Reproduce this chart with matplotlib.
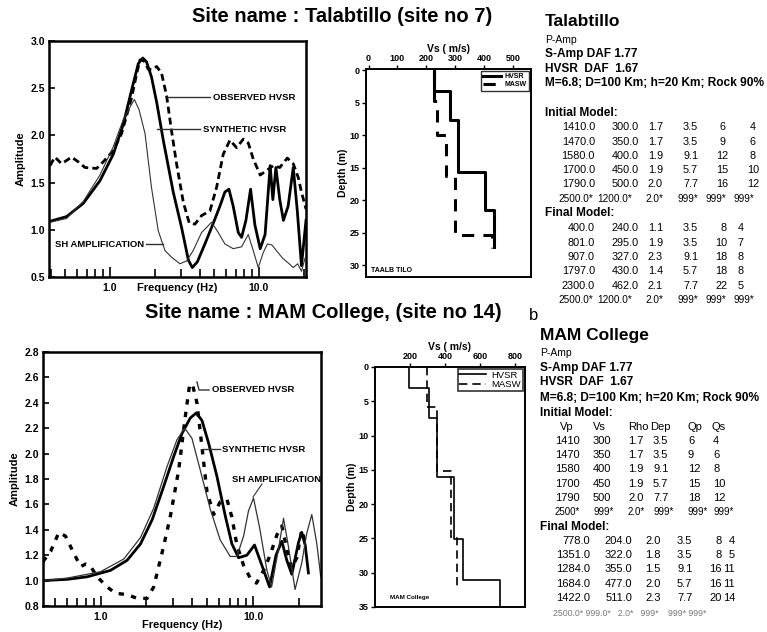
import numpy as np
import matplotlib.pyplot as plt
from matplotlib.lines import Line2D
from matplotlib.ticker import FixedLocator, NullFormatter

plt.rcParams['font.family'] = ['Liberation Sans', 'DejaVu Sans']

# ---------------- data: Talabtillo (site 7) ----------------
f_obs_7 = [0.396, 0.427, 0.474, 0.553, 0.613, 0.680, 0.814, 0.902, 1.053, 1.198, 1.398, 1.51,
           1.59, 1.69, 1.81, 1.93, 2.06, 2.22, 2.40, 2.59, 2.80, 3.11, 3.41, 3.72, 4.12, 4.69,
           5.20, 5.76, 6.39, 7.08, 7.85, 8.48, 9.16, 10.2, 11.3, 12.5, 13.8, 15.5, 17.0, 18.4,
           19.3, 20.7]
a_obs_7 = [1.68, 1.77, 1.70, 1.77, 1.72, 1.66, 1.65, 1.72, 1.84, 2.02, 2.40, 2.65,
           2.80, 2.79, 2.70, 2.70, 2.73, 2.66, 2.42, 2.05, 1.70, 1.29, 1.07, 1.06, 1.15, 1.20,
           1.45, 1.80, 1.95, 1.87, 1.96, 1.92, 1.75, 1.58, 1.63, 1.68, 1.66, 1.76, 1.70, 1.55,
           1.40, 1.22]

f_syn_7 = [0.396, 0.512, 0.662, 0.857, 1.053, 1.23, 1.398, 1.55, 1.66, 1.76, 1.90, 2.06, 2.28,
           2.66, 3.03, 3.36, 3.57, 3.86, 4.34, 4.94, 5.47, 5.91, 6.29, 6.72, 7.27, 7.65, 8.18,
           8.79, 9.40, 10.2, 11.0, 11.9, 12.4, 13.0, 13.8, 14.6, 15.7, 17.0, 18.1, 19.3, 20.7]
a_syn_7 = [1.09, 1.14, 1.28, 1.52, 1.80, 2.12, 2.48, 2.76, 2.82, 2.78, 2.62, 2.35, 1.95,
           1.40, 1.02, 0.68, 0.60, 0.66, 0.85, 1.07, 1.25, 1.40, 1.43, 1.25, 0.97, 0.92, 1.10,
           1.43, 1.05, 0.80, 0.95, 1.68, 1.32, 1.66, 1.32, 1.10, 1.25, 1.66, 1.20, 0.62, 1.10]

f_sh_7 = [0.396, 0.512, 0.662, 0.857, 1.053, 1.23, 1.398, 1.46, 1.57, 1.72, 1.90, 2.11, 2.34,
          2.59, 2.95, 3.27, 3.62, 4.12, 4.81, 5.34, 5.91, 6.72, 7.65, 8.48, 9.16, 9.90, 10.7,
          11.4, 12.2, 13.1, 14.4, 15.7, 17.0, 18.2, 19.3, 20.4]
a_sh_7 = [1.08, 1.12, 1.30, 1.58, 1.88, 2.17, 2.33, 2.38, 2.27, 2.02, 1.45, 0.99, 0.78,
          0.71, 0.64, 0.67, 0.78, 0.97, 1.08, 0.97, 0.85, 0.80, 0.82, 0.95, 0.78, 0.60, 0.76,
          0.85, 0.84, 0.78, 0.70, 0.65, 0.60, 0.64, 0.56, 0.70]

vs_hvsr_7 = [228, 282, 311, 404, 433]
dep_hvsr_7 = [3.2, 7.6, 15.6, 21.5, 27.2]
vs_masw_7 = [225, 236, 268, 300, 427]
dep_masw_7 = [4.7, 10.0, 16.2, 25.4, 27.3]

# ---------------- data: MAM College (site 14) ----------------
f_obs_14 = [0.42, 0.471, 0.534, 0.590, 0.653, 0.740, 0.798, 0.852, 0.951, 1.105, 1.253, 1.494,
            1.736, 2.018, 2.23, 2.59, 2.87, 3.25, 3.59, 3.84, 4.03, 4.28, 4.62, 4.98, 5.51,
            6.08, 6.73, 7.25, 7.82, 8.65, 9.56, 10.5, 11.7, 12.9, 14.3, 15.4, 16.6, 17.9,
            19.3, 20.8, 21.9]
a_obs_14 = [1.15, 1.23, 1.38, 1.35, 1.24, 1.11, 1.13, 1.12, 1.03, 0.95, 0.90, 0.89,
            0.86, 0.86, 0.95, 1.27, 1.51, 1.87, 2.29, 2.55, 2.53, 2.40, 2.05, 1.70, 1.52,
            1.62, 1.64, 1.50, 1.28, 1.12, 1.02, 0.98, 1.08, 1.20, 1.36, 1.43, 1.25, 1.10,
            1.18, 1.40, 1.30]

f_syn_14 = [0.42, 0.606, 0.818, 1.16, 1.494, 1.83, 2.18, 2.59, 3.02, 3.42, 3.87, 4.24, 4.62,
            5.11, 5.79, 6.56, 7.25, 8.02, 9.09, 10.2, 11.4, 12.8, 14.1, 15.4, 16.6, 17.9,
            19.8, 20.8, 21.9, 23.0]
a_syn_14 = [1.00, 1.01, 1.03, 1.08, 1.16, 1.29, 1.48, 1.74, 1.98, 2.16, 2.28, 2.32, 2.26,
            2.08, 1.82, 1.51, 1.29, 1.18, 1.20, 1.28, 1.12, 0.95, 1.20, 1.31, 1.16, 1.05,
            1.30, 1.38, 1.28, 1.06]

f_sh_14 = [0.42, 0.606, 1.0, 1.42, 1.83, 2.23, 2.73, 3.17, 3.56, 3.97, 4.50, 5.24, 6.08, 7.07,
           7.82, 8.65, 9.32, 10.05, 11.0, 12.3, 13.2, 14.6, 15.8, 17.0, 18.8, 20.8, 22.4,
           24.2, 26.1, 27.7]
a_sh_14 = [1.00, 1.02, 1.07, 1.17, 1.34, 1.57, 1.90, 2.11, 2.20, 2.12, 1.87, 1.56, 1.32, 1.19,
           1.19, 1.35, 1.55, 1.65, 1.42, 1.08, 0.95, 1.24, 1.49, 1.27, 0.93, 1.14, 1.37,
           1.52, 1.29, 1.03]

vs_hvsr_14 = [196, 310, 352, 451, 501, 714]
dep_hvsr_14 = [3.0, 7.4, 16.0, 25.1, 31.0, 35.0]
vs_masw_14 = [299, 352, 433, 470]
dep_masw_14 = [5.8, 15.1, 25.0, 32.0]

# text blocks
head_lines = ["P-Amp", "S-Amp DAF 1.77", "HVSR  DAF  1.67", "M=6.8; D=100 Km; h=20 Km; Rock 90%"]
init_7 = [["1410.0", "300.0", "1.7", "3.5", "6", "4"],
          ["1470.0", "350.0", "1.7", "3.5", "9", "6"],
          ["1580.0", "400.0", "1.9", "9.1", "12", "8"],
          ["1700.0", "450.0", "1.9", "5.7", "15", "10"],
          ["1790.0", "500.0", "2.0", "7.7", "16", "12"]]
final_7 = [["400.0", "240.0", "1.1", "3.5", "8", "4"],
           ["801.0", "295.0", "1.9", "3.5", "10", "7"],
           ["907.0", "327.0", "2.3", "9.1", "18", "8"],
           ["1797.0", "430.0", "1.4", "5.7", "18", "8"],
           ["2300.0", "462.0", "2.1", "7.7", "22", "5"]]
half_7 = ["2500.0*", "1200.0*", "2.0*", "999*", "999*", "999*"]
cols_14 = ["Vp", "Vs", "Rho", "Dep", "Qp", "Qs"]
init_14 = [["1410", "300", "1.7", "3.5", "6", "4"],
           ["1470", "350", "1.7", "3.5", "9", "6"],
           ["1580", "400", "1.9", "9.1", "12", "8"],
           ["1700", "450", "1.9", "5.7", "15", "10"],
           ["1790", "500", "2.0", "7.7", "18", "12"],
           ["2500*", "999*", "2.0*", "999*", "999*", "999*"]]
final_14 = [["778.0", "204.0", "2.0", "3.5", "8", "4"],
            ["1351.0", "322.0", "1.8", "3.5", "8", "5"],
            ["1284.0", "355.0", "1.5", "9.1", "16", "11"],
            ["1684.0", "477.0", "2.0", "5.7", "16", "11"],
            ["1422.0", "511.0", "2.3", "7.7", "20", "14"]]
half_14 = "2500.0* 999.0*   2.0*   999*    999* 999*"

W, H = 767, 632
fig = plt.figure(figsize=(W / 100, H / 100), dpi=100)


def rect(x0, y0, x1, y1):
    return [x0 / W, 1 - y1 / H, (x1 - x0) / W, (y1 - y0) / H]


def ftxt(x, y, s, **kw):
    kw.setdefault('va', 'center')
    fig.text(x / W, 1 - y / H, s, **kw)


def fline(xs, ys, lw=1.0):
    fig.add_artist(Line2D([x / W for x in xs], [1 - y / H for y in ys],
                          transform=fig.transFigure, color='#333333', lw=lw))


def steps(vs, dep):
    x, y, top = [], [], 0.0
    for v, d in zip(vs, dep):
        x += [v, v]
        y += [top, d]
        top = d
    return x, y


def amp_axes(ax, xlim, ylim, yticks, xlab_y):
    ax.set_xscale('log')
    ax.set_xlim(*xlim)
    ax.set_ylim(*ylim)
    ax.xaxis.set_major_locator(FixedLocator([1, 10]))
    ax.set_xticklabels(["1.0", "10.0"])
    minors = [m * 10 ** e for e in (-1, 0, 1) for m in range(2, 10)]
    ax.xaxis.set_minor_locator(FixedLocator(minors))
    ax.xaxis.set_minor_formatter(NullFormatter())
    ax.set_yticks(yticks)
    ax.set_yticklabels([f"{t:.1f}" for t in yticks])
    ax.tick_params(axis='both', which='both', direction='in', width=1.2)
    ax.tick_params(axis='x', which='major', length=7, pad=4)
    ax.tick_params(axis='x', which='minor', length=6)
    ax.tick_params(axis='y', length=4, pad=3)
    for lab in ax.get_xticklabels() + ax.get_yticklabels():
        lab.set_fontweight('bold')
        lab.set_fontsize(7.5)
    for s in ax.spines.values():
        s.set_linewidth(1.8)
    ax.set_xlabel("Frequency (Hz)", fontsize=8, fontweight='bold', va='center')
    ax.xaxis.set_label_coords(0.5, xlab_y)
    ax.set_ylabel("Amplitude", fontsize=8, fontweight='bold', labelpad=3)


def vs_axes(ax, xlim, xticks, ylim):
    ax.set_xlim(*xlim)
    ax.set_ylim(*ylim)
    ax.set_xticks(xticks)
    ax.set_yticks(np.arange(0, ylim[0] + 0.1, 5))
    ax.xaxis.tick_top()
    ax.xaxis.set_label_position('top')
    ax.tick_params(axis='both', direction='out', length=3, width=1.0, pad=1.5)
    for lab in ax.get_xticklabels() + ax.get_yticklabels():
        lab.set_fontweight('bold')
        lab.set_fontsize(6.5)
    for s in ax.spines.values():
        s.set_linewidth(1.4)
    ax.set_xlabel("Vs ( m/s)", fontsize=7.5, fontweight='bold', labelpad=1)
    ax.set_ylabel("Depth (m)", fontsize=7.5, fontweight='bold', labelpad=1)


# ---------------- top: Talabtillo ----------------
ftxt(192, 17, "Site name : Talabtillo (site no 7)", fontsize=14.5, fontweight='bold')

ax1 = fig.add_axes(rect(49, 41, 306, 277))
ax1.plot(f_obs_7, a_obs_7, color='black', lw=2.0, ls=(0, (2.5, 1.5)))
ax1.plot(f_syn_7, a_syn_7, color='black', lw=2.0)
ax1.plot(f_sh_7, a_sh_7, color='#333333', lw=0.8)
amp_axes(ax1, (0.39, 20.7), (0.5, 3.0), [0.5, 1.0, 1.5, 2.0, 2.5, 3.0], -0.047)

ftxt(213, 97, "OBSERVED HVSR", fontsize=6.8, fontweight='bold')
fline([167, 210], [97, 97])
ftxt(203, 129, "SYNTHETIC HVSR", fontsize=6.8, fontweight='bold')
fline([157, 200], [129, 129])
ftxt(55, 244, "SH AMPLIFICATION", fontsize=6.8, fontweight='bold')
fline([146, 163], [244, 244])

ax2 = fig.add_axes(rect(366, 69, 531, 277))
x, y = steps(vs_hvsr_7, dep_hvsr_7)
ax2.plot(x, y, color='black', lw=2.2, label="HVSR")
x, y = steps(vs_masw_7, dep_masw_7)
ax2.plot(x, y, color='black', lw=2.2, ls=(0, (4, 3)), label="MASW")
vs_axes(ax2, (-9, 563), [0, 100, 200, 300, 400, 500], (31.8, -0.2))
leg = ax2.legend(loc='upper right', frameon=True, fancybox=False,
                 edgecolor='black', handlelength=2.6, borderpad=0.35, labelspacing=0.15,
                 handletextpad=0.5, borderaxespad=0.25, prop={'weight': 'bold', 'size': 5})
leg.get_frame().set_linewidth(1.0)
ax2.text(0.03, 0.015, "TAALB TILO", transform=ax2.transAxes, fontsize=5, fontweight='bold',
         va='bottom')

# text block top right
ftxt(545, 22, "Talabtillo", fontsize=12.5, fontweight='bold')
ftxt(545, 40, head_lines[0], fontsize=7.5)
for yy, s in zip([54, 69, 83], head_lines[1:]):
    ftxt(545, yy, s, fontsize=8.6, fontweight='bold')
ftxt(545, 113, "Initial Model:", fontsize=8.6, fontweight='bold')
ftxt(545, 213, "Final Model:", fontsize=8.6, fontweight='bold')

pos_i7 = [(595, 'right'), (639, 'right'), (648, 'left'), (683, 'left'), (722, 'center'), (753, 'center')]
pos_f7 = [(595, 'right'), (639, 'right'), (648, 'left'), (683, 'left'), (727, 'right'), (741, 'center')]
pos_h7 = [(558, 'left'), (597, 'left'), (645, 'left'), (678, 'left'), (705, 'left'), (733, 'left')]
for yy, row in zip([127, 142, 156, 170, 184], init_7):
    for (xx, ha), s in zip(pos_i7, row):
        ftxt(xx, yy, s, fontsize=7.8, ha=ha)
for yy, row in zip([228, 243, 257, 271, 286], final_7):
    for (xx, ha), s in zip(pos_f7, row):
        ftxt(xx, yy, s, fontsize=7.8, ha=ha)
for yy in (199, 300):
    for (xx, ha), s in zip(pos_h7, half_7):
        ftxt(xx, yy, s, fontsize=7.2, ha=ha)

# ---------------- bottom: MAM College ----------------
ftxt(145, 312, "Site name : MAM College, (site no 14)", fontsize=14.5, fontweight='bold')
ftxt(529, 315, "b", fontsize=12)

ax3 = fig.add_axes(rect(43, 352, 321, 606))
ax3.plot(f_obs_14, a_obs_14, color='black', lw=2.4, ls=(0, (1.6, 2.2)))
ax3.plot(f_syn_14, a_syn_14, color='black', lw=2.0)
ax3.plot(f_sh_14, a_sh_14, color='#333333', lw=0.9)
amp_axes(ax3, (0.42, 27.8), (0.8, 2.8), [0.8, 1.0, 1.2, 1.4, 1.6, 1.8, 2.0, 2.2, 2.4, 2.6, 2.8],
         -0.075)

ftxt(212, 390, "OBSERVED HVSR", fontsize=6.8, fontweight='bold')
fline([197, 199, 209], [382, 390, 390])
ftxt(222, 449, "SYNTHETIC HVSR", fontsize=6.8, fontweight='bold')
fline([203, 220], [449, 449])
ax3.text(232 / W, 1 - 479 / H, "SH AMPLIFICATION", transform=fig.transFigure, fontsize=6.8,
         fontweight='bold', va='center', clip_on=True)
fline([253, 262], [497, 484], lw=0.8)

ax4 = fig.add_axes(rect(375, 367, 525, 607))
x, y = steps(vs_hvsr_14, dep_hvsr_14)
ax4.plot(x, y, color='black', lw=1.2, label="HVSR")
x, y = steps(vs_masw_14, dep_masw_14)
ax4.plot(x, y, color='black', lw=1.2, ls=(0, (5, 3)), label="MASW")
vs_axes(ax4, (0, 857), [200, 400, 600, 800], (35, 0))
leg = ax4.legend(loc='upper right', fontsize=6.8, frameon=True, fancybox=False,
                 edgecolor='black', handlelength=2.8, borderpad=0.2, labelspacing=0.05,
                 handletextpad=0.6, borderaxespad=0.2)
leg.get_frame().set_linewidth(1.2)
ax4.text(0.1, 0.03, "MAM College", transform=ax4.transAxes, fontsize=4.5, fontweight='bold',
         va='bottom')

# text block bottom right
ftxt(540, 335, "MAM College", fontsize=12.5, fontweight='bold')
ftxt(540, 353, head_lines[0], fontsize=7.5)
for yy, s in zip([368, 382, 398], head_lines[1:]):
    ftxt(540, yy, s, fontsize=8.6, fontweight='bold')
ftxt(540, 413, "Initial Model:", fontsize=8.6, fontweight='bold')
ftxt(540, 527, "Final Model:", fontsize=8.6, fontweight='bold')

for xx, s in zip([560, 593, 628, 650, 688, 712], cols_14):
    ftxt(xx, 427, s, fontsize=8)
for yy, row in zip([441, 455, 469, 484, 498, 512], init_14):
    small = row[0].endswith('*')
    for xx, s in zip([555, 593, 628, 653, 688, 713], row):
        ftxt(xx, yy, s, fontsize=7 if small else 8)
pos_f14 = [(590, 'right'), (632, 'right'), (645, 'left'), (677, 'left'), (722, 'right'), (735, 'right')]
for yy, row in zip([541, 555, 569, 584, 598], final_14):
    for (xx, ha), s in zip(pos_f14, row):
        ftxt(xx, yy, s, fontsize=8, ha=ha)
ftxt(553, 613, half_14, fontsize=6.3, color='#777777')

fig.savefig("out.png", dpi=100)
